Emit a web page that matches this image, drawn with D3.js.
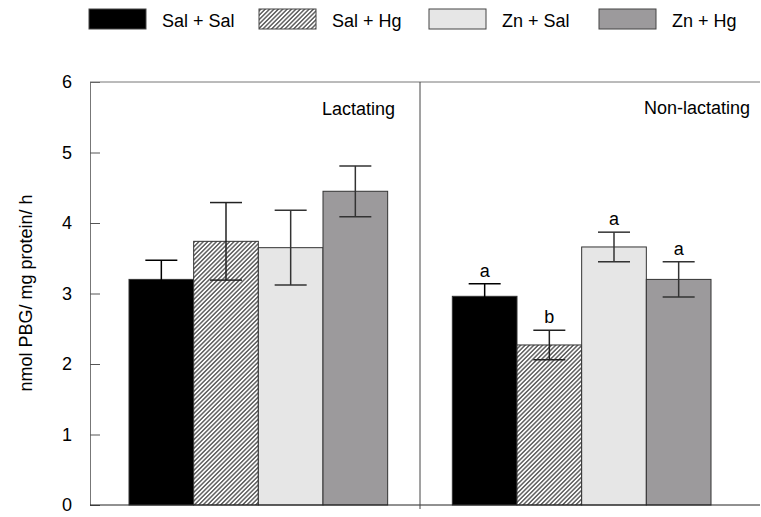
<!DOCTYPE html>
<html><head><meta charset="utf-8">
<script src="https://cdn.jsdelivr.net/npm/d3@7"></script>
<style>body{margin:0;background:#fff}svg{display:block;font-family:Arial,"Liberation Sans",sans-serif}</style>
</head><body><svg id="c" width="761" height="517"></svg>
<script>
const panels = ["Lactating", "Non-lactating"];
const treatments = ["Sal + Sal", "Sal + Hg", "Zn + Sal", "Zn + Hg"];
const lactMean = [3.2, 3.74, 3.65, 4.45];
const lactErr  = [0.27, 0.55, 0.53, 0.36];
const nonMean  = [2.96, 2.27, 3.66, 3.20];
const nonErr   = [0.18, 0.21, 0.21, 0.25];
const nonLetters = ["a", "b", "a", "a"];
const yTicks = [0, 1, 2, 3, 4, 5, 6];
const fills = ["#000000", "url(#hatch)", "#e6e6e6", "#9c9a9c"];
const errColors = ["#000000", "#222222", "#333333", "#333333"];

const FS = 18;
const svg = d3.select("#c");
const defs = svg.append("defs");
const P = 3.1;
const pat = defs.append("pattern").attr("id", "hatch").attr("patternUnits", "userSpaceOnUse")
  .attr("width", P).attr("height", P).attr("patternTransform", "rotate(45)");
pat.append("rect").attr("width", P).attr("height", P).attr("fill", "#fff");
pat.append("line").attr("x1", P / 2).attr("x2", P / 2).attr("y1", 0).attr("y2", P)
  .attr("stroke", "#555").attr("stroke-width", 1.4);

const mLeft = 90, mRight = 760, mTop = 82, mBottom = 505;
const y = d3.scaleLinear().domain([0, 6]).range([mBottom, mTop]);

// slots: 4 bars, gap, 4 bars
const slots = [];
panels.forEach((p, i) => {
  treatments.forEach(t => slots.push(p + "|" + t));
  if (i === 0) slots.push("gap");
});
const x = d3.scaleBand().domain(slots).range([129, 711]).padding(0);

const data = [];
panels.forEach((p, pi) => {
  treatments.forEach((t, ti) => {
    data.push({panel: p, t, ti,
      mean: pi === 0 ? lactMean[ti] : nonMean[ti],
      err: pi === 0 ? lactErr[ti] : nonErr[ti],
      letter: pi === 0 ? null : nonLetters[ti]});
  });
});

// bars
svg.append("g").selectAll("rect").data(data).join("rect")
  .attr("x", d => x(d.panel + "|" + d.t))
  .attr("width", x.bandwidth())
  .attr("y", d => y(d.mean))
  .attr("height", d => y(0) - y(d.mean))
  .attr("fill", d => fills[d.ti])
  .attr("stroke", "#333").attr("stroke-width", 1);

// error bars
const eb = svg.append("g").attr("stroke-width", 1.5);
data.forEach(d => {
  const cx = x(d.panel + "|" + d.t) + x.bandwidth() / 2;
  const hw = 16;
  const c = errColors[d.ti];
  eb.append("line").attr("stroke", c).attr("x1", cx).attr("x2", cx).attr("y1", y(d.mean + d.err)).attr("y2", y(d.mean - d.err));
  eb.append("line").attr("stroke", c).attr("x1", cx - hw).attr("x2", cx + hw).attr("y1", y(d.mean + d.err)).attr("y2", y(d.mean + d.err));
  eb.append("line").attr("stroke", c).attr("x1", cx - hw).attr("x2", cx + hw).attr("y1", y(d.mean - d.err)).attr("y2", y(d.mean - d.err));
  if (d.letter) {
    svg.append("text").attr("x", cx).attr("y", y(d.mean + d.err) - 7)
      .attr("text-anchor", "middle").attr("font-size", FS).text(d.letter);
  }
});

// y axis
const yAxis = d3.axisLeft(y).tickValues(yTicks).tickFormat(d3.format("d")).tickSize(-10).tickPadding(18);
const ga = svg.append("g").attr("transform", `translate(${mLeft},0)`).call(yAxis);
ga.select(".domain").attr("stroke", "#777");
ga.selectAll(".tick line").attr("stroke", "#555");
ga.selectAll("text").attr("font-size", FS).attr("fill", "#000").attr("font-family", "Arial, Liberation Sans, sans-serif");

// frame: top and bottom
svg.append("line").attr("x1", mLeft).attr("x2", mRight).attr("y1", mTop).attr("y2", mTop).attr("stroke", "#777");
svg.append("line").attr("x1", mLeft).attr("x2", mRight).attr("y1", mBottom).attr("y2", mBottom).attr("stroke", "#222");
// divider
const divX = x("gap") + x.bandwidth() / 2;
svg.append("line").attr("x1", divX).attr("x2", divX).attr("y1", mTop).attr("y2", mBottom + 4).attr("stroke", "#444");

// panel labels
svg.append("text").attr("x", divX - 25).attr("y", 115).attr("text-anchor", "end").attr("font-size", FS).text(panels[0]);
svg.append("text").attr("x", 750).attr("y", 114).attr("text-anchor", "end").attr("font-size", FS).text(panels[1]);

// y title
svg.append("text").attr("transform", "translate(32,293) rotate(-90)").attr("text-anchor", "middle")
  .attr("font-size", FS).text("nmol PBG/ mg protein/ h");

// legend
const legX = d3.scaleBand().domain(treatments).range([89, 769]);
const lg = svg.append("g").selectAll("g").data(treatments).join("g")
  .attr("transform", d => `translate(${legX(d)},0)`);
lg.append("rect").attr("x", 0).attr("y", 9).attr("width", 57).attr("height", 20)
  .attr("fill", (d, i) => fills[i]).attr("stroke", "#444").attr("stroke-width", 1);
lg.append("text").attr("x", 73).attr("y", 27).attr("font-size", FS).text(d => d);
</script></body></html>
